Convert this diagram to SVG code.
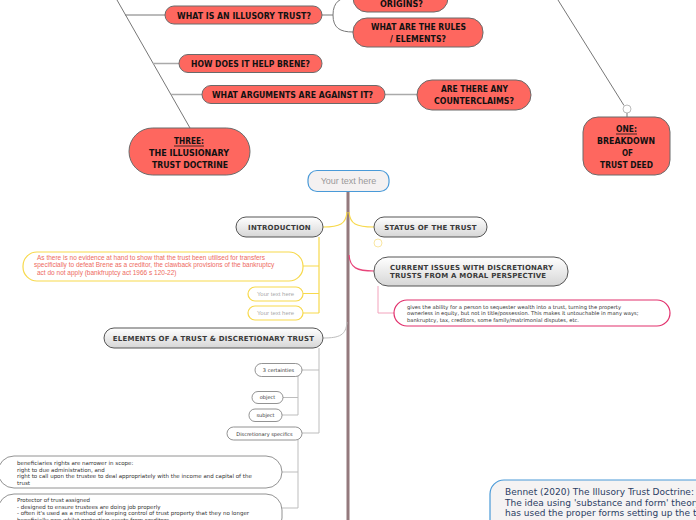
<svg xmlns="http://www.w3.org/2000/svg" width="696" height="520" viewBox="0 0 696 520">
<style>
.red{fill:#fe675f;stroke:#6a6a6a;stroke-width:1}
.rt{font-family:"DejaVu Sans",Verdana,sans-serif;font-weight:bold;font-size:8.5px;fill:#111;text-anchor:middle}
.gray{fill:url(#gg);stroke:#555;stroke-width:1}
.gt{font-family:"DejaVu Sans",Verdana,sans-serif;font-weight:bold;font-size:7px;fill:#3a3a3a;letter-spacing:0.2px}
.sm{fill:#fff;stroke:#777;stroke-width:0.8}
.st{font-family:"DejaVu Sans",Verdana,sans-serif;font-size:5px;fill:#333}
.bt{font-family:"DejaVu Sans",Verdana,sans-serif;font-size:5.5px;fill:#333}
.yb{fill:#fff;stroke:#f7d94c;stroke-width:1.2}
.dk{fill:none;stroke:#777;stroke-width:1}
.lg{fill:none;stroke:#aaa;stroke-width:1.5}
.yl{fill:none;stroke:#f7d94c;stroke-width:1.2}
.gl{fill:none;stroke:#bdbdbd;stroke-width:1}
.pl{fill:none;stroke:#f2a3bc;stroke-width:1}
</style>
<defs>
<linearGradient id="gg" x1="0" y1="0" x2="0" y2="1">
<stop offset="0" stop-color="#ffffff"/>
<stop offset="1" stop-color="#d6d6d6"/>
</linearGradient>
</defs>
<rect width="696" height="520" fill="#fff"/>
<g id="connectors">
<path class="dk" d="M117,0 L190,128"/>
<path class="dk" d="M125,15 H165"/>
<path class="lg" d="M153,63.5 H179"/>
<path class="lg" d="M171,94.5 H202"/>
<path class="dk" d="M322,15 H333"/>
<path class="dk" d="M353,-3 C340,-3 333,2 333,15 C333,28 340,32 353,32"/>
<path class="lg" d="M385,94.5 H417"/>
<path class="dk" d="M558,0 L624,105.5"/>
<path class="dk" d="M627,113 V117"/>
<circle cx="627" cy="109" r="4" fill="#fff" stroke="#aaa" stroke-width="0.8"/>
<path d="M348,191 V520" fill="none" stroke="#94797d" stroke-width="3"/>
<path class="yl" d="M323,227 C340,227 346,224 347,212"/>
<path class="yl" d="M349,212 C350,224 356,227 374,227"/>
<circle cx="378" cy="243" r="4" fill="#fff" stroke="#f7e08a" stroke-width="0.8"/>
<path fill="none" stroke="#e8457a" stroke-width="1.2" d="M349,255 C350,268 357,271 374,271"/>
<path class="gl" d="M323,338 C340,338 346,335 347,322"/>
<path class="yl" d="M319,237 V313 M319,266 H303 M319,293.5 H303 M319,313 H303"/>
<path class="pl" d="M378,286 V313 H394"/>
<path class="gl" d="M319,348 V433 M319,370 H302 M319,433 H302"/>
<path class="gl" d="M298,376 V415 M298,397.5 H283 M298,415 H282"/>
<path class="gl" d="M298,440 V508 M298,472 H282 M298,508 H282"/>
</g>
<g id="n-origins">
<rect class="red" x="353" y="-18" width="95" height="30" rx="14"/>
<text class="rt" x="401.5" y="7" textLength="43" lengthAdjust="spacingAndGlyphs">ORIGINS?</text>
</g>
<g id="n-illusory">
<rect class="red" x="165" y="6" width="157" height="18" rx="9"/>
<text class="rt" x="244" y="19" textLength="134" lengthAdjust="spacingAndGlyphs">WHAT IS AN ILLUSORY TRUST?</text>
</g>
<g id="n-rules">
<rect class="red" x="353" y="18" width="130" height="29" rx="14"/>
<text class="rt" x="418.5" y="30" textLength="95" lengthAdjust="spacingAndGlyphs">WHAT ARE THE RULES</text>
<text class="rt" x="418" y="42" textLength="56" lengthAdjust="spacingAndGlyphs">/ ELEMENTS?</text>
</g>
<g id="n-help">
<rect class="red" x="179" y="54.5" width="143" height="18" rx="9"/>
<text class="rt" x="250.5" y="67" textLength="119" lengthAdjust="spacingAndGlyphs">HOW DOES IT HELP BRENE?</text>
</g>
<g id="n-against">
<rect class="red" x="202" y="85.5" width="183" height="18" rx="9"/>
<text class="rt" x="292.5" y="98" textLength="161" lengthAdjust="spacingAndGlyphs">WHAT ARGUMENTS ARE AGAINST IT?</text>
</g>
<g id="n-counter">
<rect class="red" x="417" y="80" width="114" height="30" rx="15"/>
<text class="rt" x="474.5" y="92" textLength="67" lengthAdjust="spacingAndGlyphs">ARE THERE ANY</text>
<text class="rt" x="474" y="104" textLength="80" lengthAdjust="spacingAndGlyphs">COUNTERCLAIMS?</text>
</g>
<g id="n-three">
<rect class="red" x="129" y="128" width="121" height="47" rx="23.5"/>
<text class="rt" x="189" y="144" textLength="30" lengthAdjust="spacingAndGlyphs">THREE:</text>
<path d="M174,146 H204" stroke="#111" stroke-width="0.8"/>
<text class="rt" x="189" y="156" textLength="80" lengthAdjust="spacingAndGlyphs">THE ILLUSIONARY</text>
<text class="rt" x="190" y="168" textLength="76" lengthAdjust="spacingAndGlyphs">TRUST DOCTRINE</text>
</g>
<g id="n-one">
<rect class="red" x="583" y="117" width="87" height="58" rx="15"/>
<text class="rt" x="626.5" y="132" textLength="21" lengthAdjust="spacingAndGlyphs">ONE:</text>
<path d="M616,134 H637" stroke="#111" stroke-width="0.8"/>
<text class="rt" x="626" y="144" textLength="58" lengthAdjust="spacingAndGlyphs">BREAKDOWN</text>
<text class="rt" x="627.5" y="156" textLength="11" lengthAdjust="spacingAndGlyphs">OF</text>
<text class="rt" x="626.5" y="168" textLength="53" lengthAdjust="spacingAndGlyphs">TRUST DEED</text>
</g>
<g id="n-root">
<rect x="308" y="170.5" width="81" height="21" rx="9" fill="#f4f1f1" stroke="#4a9ad8" stroke-width="1.2"/>
<text x="348.5" y="184" font-family="'Liberation Sans',Arial,sans-serif" font-size="9px" fill="#9a9a9a" text-anchor="middle">Your text here</text>
</g>
<g id="n-intro">
<rect class="gray" x="236" y="217" width="87" height="20" rx="10"/>
<text class="gt" x="279.5" y="229.5" text-anchor="middle">INTRODUCTION</text>
</g>
<g id="n-status">
<rect class="gray" x="374" y="217" width="113" height="20" rx="10"/>
<text class="gt" x="430.5" y="229.5" text-anchor="middle">STATUS OF THE TRUST</text>
</g>
<g id="n-current">
<rect class="gray" x="374" y="257" width="194" height="29" rx="14"/>
<text class="gt" x="390" y="270">CURRENT ISSUES WITH DISCRETIONARY</text>
<text class="gt" x="390" y="278">TRUSTS FROM A MORAL PERSPECTIVE</text>
</g>
<g id="n-moral">
<rect x="394" y="300" width="276" height="26" rx="13" fill="#fff" stroke="#e2306c" stroke-width="1.2"/>
<g class="st" style="font-size:5.2px">
<text x="407" y="308.5">gives the ability for a person to sequester wealth into a trust, turning the property</text>
<text x="407" y="315.3">ownerless in equity, but not in title/possession. This makes it untouchable in many ways;</text>
<text x="407" y="322">bankruptcy, tax, creditors, some family/matrimonial disputes, etc.</text>
</g>
</g>
<g id="n-evidence">
<rect class="yb" x="23" y="252" width="280" height="29" rx="14"/>
<g font-family="'Liberation Sans',Arial,sans-serif" font-size="6.5px" fill="#ee6a5e">
<text x="37" y="260">As there is no evidence at hand to show that the trust been utilised for transfers</text>
<text x="34" y="267.3">specificially to defeat Brene as a creditor, the clawback provisions of the bankruptcy</text>
<text x="37" y="274.6">act do not apply (bankfruptcy act 1966  s 120-22)</text>
</g>
</g>
<g id="n-yt1">
<rect class="yb" x="248" y="287" width="55" height="14" rx="7"/>
<text x="275.5" y="296" font-family="'Liberation Sans',Arial,sans-serif" font-size="6px" fill="#aaa" text-anchor="middle">Your text here</text>
</g>
<g id="n-yt2">
<rect class="yb" x="248" y="306" width="55" height="14" rx="7"/>
<text x="275.5" y="315" font-family="'Liberation Sans',Arial,sans-serif" font-size="6px" fill="#aaa" text-anchor="middle">Your text here</text>
</g>
<g id="n-elements">
<rect class="gray" x="104" y="328" width="219" height="20" rx="10"/>
<text class="gt" x="213.5" y="340.7" text-anchor="middle">ELEMENTS OF A TRUST &amp; DISCRETIONARY TRUST</text>
</g>
<g id="n-cert">
<rect class="sm" x="255" y="363.5" width="47" height="13" rx="6.5"/>
<text class="st" x="278.5" y="372" text-anchor="middle">3 certainties</text>
</g>
<g id="n-object">
<rect class="sm" x="252" y="391.5" width="31" height="12" rx="6"/>
<text class="st" x="267.5" y="399.3" text-anchor="middle">object</text>
</g>
<g id="n-subject">
<rect class="sm" x="249" y="409" width="33" height="12.5" rx="6"/>
<text class="st" x="265.5" y="417" text-anchor="middle">subject</text>
</g>
<g id="n-disc">
<rect class="sm" x="227" y="427" width="75" height="13" rx="6.5"/>
<text class="st" x="264.5" y="435.8" text-anchor="middle">Discretionary specifics</text>
</g>
<g id="n-benef">
<rect class="sm" x="-2" y="456" width="284" height="32" rx="16"/>
<text class="bt" x="17" y="465">beneficiaries rights are narrower in scope:</text>
<text class="bt" x="17" y="471.5">right to due administration, and</text>
<text class="bt" x="17" y="478">right to call upon the trustee to deal appropriately with the income and capital of the</text>
<text class="bt" x="17" y="484.5">trust</text>
</g>
<g id="n-protector">
<rect class="sm" x="-2" y="494" width="284" height="40" rx="16"/>
<text class="bt" x="17" y="502">Protector of trust assigned</text>
<text class="bt" x="17" y="508.5">- designed to ensure trustees are doing job properly</text>
<text class="bt" x="17" y="515">- often it's used as a method of keeping control of trust property that they no longer</text>
<text class="bt" x="17" y="521.5">beneficially own whilst protecting assets from creditors</text>
</g>
<g id="n-bennet">
<rect x="490" y="480" width="230" height="60" rx="14" fill="#f5f3f3" stroke="#4a9ad8" stroke-width="1.2"/>
<g font-family="'DejaVu Sans',Verdana,sans-serif" font-size="9px" fill="#2b3d63">
<text x="505" y="495">Bennet (2020) The Illusory Trust Doctrine:</text>
<text x="505" y="505.5">The idea using 'substance and form' theory</text>
<text x="505" y="516">has used the proper forms setting up the trust</text>
</g>
</g>
</svg>
